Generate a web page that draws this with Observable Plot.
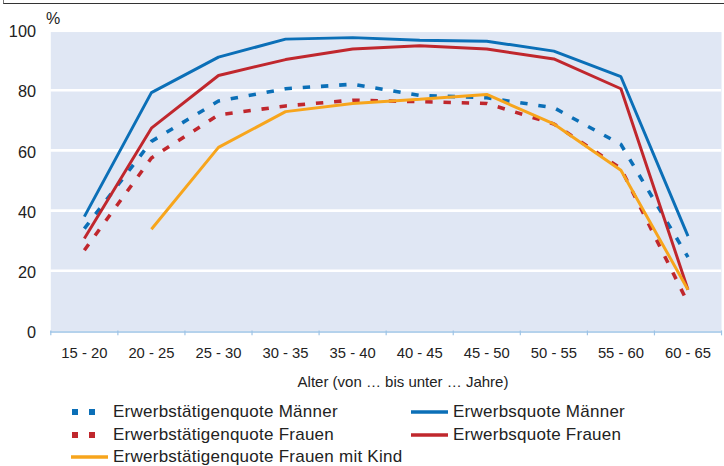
<!DOCTYPE html>
<html>
<head>
<meta charset="utf-8">
<script src="https://cdn.jsdelivr.net/npm/d3@7"></script>
<script src="https://cdn.jsdelivr.net/npm/@observablehq/plot@0.6"></script>
<style>
  html, body { margin: 0; padding: 0; background: #fff; overflow: hidden; }
  body { width: 724px; height: 466px; position: relative; font-family: "Liberation Sans", Arial, sans-serif; color: #222; }
  #frame { position: absolute; left: 3px; top: -2px; width: 740px; height: 5px; border-left: 1.5px solid #777; border-bottom: 1.5px solid #333; }
  #chart { position: absolute; left: 0; top: 0; }
  #pct { position: absolute; left: 46px; top: 10px; font-size: 16px; }
  #xtitle { position: absolute; left: 403px; top: 373px; transform: translateX(-50%); font-size: 15px; white-space: nowrap; }
  .leg { position: absolute; font-size: 17px; letter-spacing: 0.25px; white-space: nowrap; display: flex; align-items: center; }
  .leg svg { margin-right: 5px; }
</style>
</head>
<body>
<div id="frame"></div>
<div id="chart"></div>
<div id="pct">%</div>
<div id="xtitle">Alter (von … bis unter … Jahre)</div>
<div id="legend"></div>
<script>
const ageGroups = ["15 - 20", "20 - 25", "25 - 30", "30 - 35", "35 - 40", "40 - 45", "45 - 50", "50 - 55", "55 - 60", "60 - 65"];
const erwerbstaetigenquoteMaenner = [34.0, 63.0, 76.4, 80.5, 82.0, 78.3, 77.5, 74.2, 62.0, 24.5];
const erwerbsquoteMaenner = [38.0, 79.2, 91.0, 97.0, 97.5, 96.6, 96.3, 93.0, 84.5, 31.5];
const erwerbstaetigenquoteFrauen = [26.8, 57.5, 71.8, 74.8, 76.7, 76.2, 75.6, 68.8, 54.0, 9.3];
const erwerbsquoteFrauen = [30.7, 67.4, 84.9, 90.2, 93.7, 94.8, 93.7, 90.4, 80.5, 13.7];
const erwerbstaetigenquoteFrauenKind = [null, 33.8, 61.0, 72.9, 75.6, 77.0, 78.6, 68.8, 53.4, 13.7];
const yTicks = [0, 20, 40, 60, 80, 100];

const series = [
  {name: "Erwerbstätigenquote Männer", values: erwerbstaetigenquoteMaenner, color: "#0b6fb7", dashed: true},
  {name: "Erwerbsquote Männer", values: erwerbsquoteMaenner, color: "#0b6fb7", dashed: false},
  {name: "Erwerbstätigenquote Frauen", values: erwerbstaetigenquoteFrauen, color: "#c0272d", dashed: true},
  {name: "Erwerbsquote Frauen", values: erwerbsquoteFrauen, color: "#c0272d", dashed: false},
  {name: "Erwerbstätigenquote Frauen mit Kind", values: erwerbstaetigenquoteFrauenKind, color: "#f7a51c", dashed: false}
];

const rows = s => s.values.map((v, i) => ({i: i + 0.5, v}));
const centers = ageGroups.map((_, i) => i + 0.5);
const bounds = d3.range(ageGroups.length + 1);
const drawOrder = [series[2], series[0], series[3], series[1], series[4]];

const plot = Plot.plot({
  width: 734,
  height: 396,
  marginTop: 30,
  marginBottom: 61,
  marginLeft: 51,
  marginRight: 3,
  style: {fontFamily: "Liberation Sans, Arial, sans-serif", color: "#222", background: "transparent"},
  x: {type: "linear", domain: [0, ageGroups.length]},
  y: {domain: [0, 100]},
  marks: [
    Plot.frame({fill: "#e0e7f4", stroke: null, insetTop: 2}),
    Plot.gridY({ticks: [20, 40, 60, 80], stroke: "white", strokeOpacity: 1, strokeWidth: 2.7}),
    Plot.axisY({ticks: yTicks, tickSize: 0, tickPadding: 15, fontSize: 16.5, dy: 2, label: null}),
    Plot.axisX({ticks: centers, tickFormat: d => ageGroups[Math.floor(d)], tickSize: 0, tickPadding: 17, fontSize: 15, label: null}),
    Plot.axisX({ticks: bounds, tickFormat: () => "", tickSize: 5, stroke: "#9dc3e6", strokeWidth: 1.2, label: null}),
    Plot.ruleY([0], {stroke: "#9dc3e6", strokeWidth: 1.5, dy: 1}),
    ...drawOrder.map(s => Plot.lineY(rows(s), {
      x: "i", y: "v", stroke: s.color,
      strokeWidth: s.dashed ? 3.6 : 3,
      strokeDasharray: s.dashed ? "7.5,11" : null,
      strokeLinecap: "butt", strokeLinejoin: "miter"
    }))
  ]
});
document.getElementById("chart").appendChild(plot);

// legend
const legPos = [
  {left: 71, top: 412}, {left: 411, top: 412},
  {left: 71, top: 435}, {left: 411, top: 435},
  {left: 71, top: 457}
];
const legend = document.getElementById("legend");
series.forEach((s, k) => {
  const p = legPos[k];
  const div = document.createElement("div");
  div.className = "leg";
  div.style.left = p.left + "px";
  div.style.top = (p.top - 11) + "px";
  div.style.height = "22px";
  const sym = s.dashed
    ? `<svg width="37" height="8"><rect x="1" y="1" width="6" height="6" fill="${s.color}"/><rect x="18" y="1" width="6" height="6" fill="${s.color}"/></svg>`
    : `<svg width="37" height="8"><line x1="0" x2="37" y1="4" y2="4" stroke="${s.color}" stroke-width="3.5"/></svg>`;
  div.innerHTML = sym + `<span>${s.name}</span>`;
  legend.appendChild(div);
});
</script>
</body>
</html>
